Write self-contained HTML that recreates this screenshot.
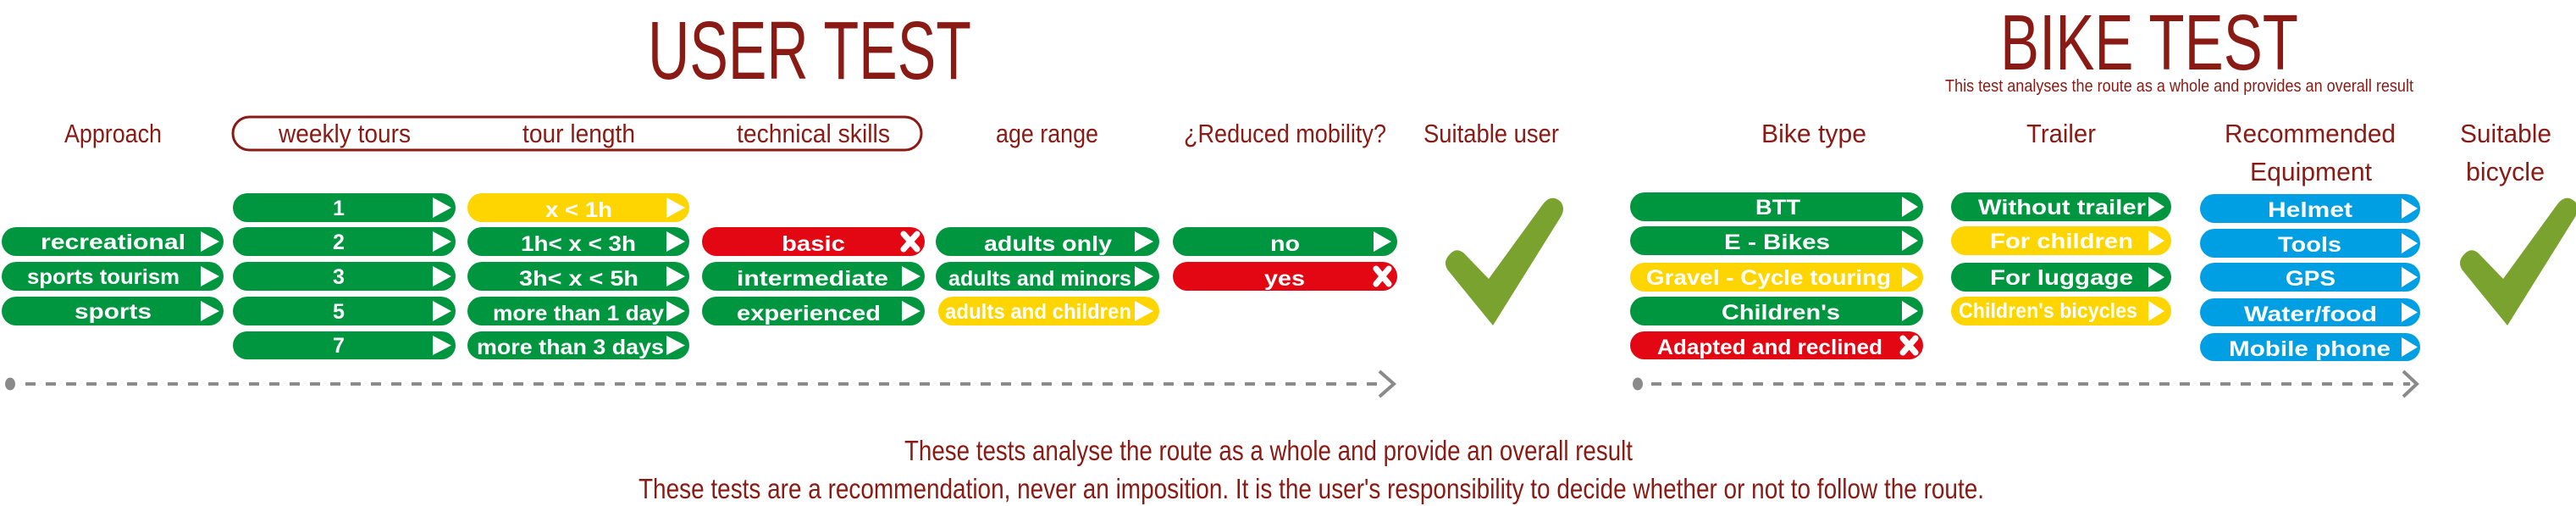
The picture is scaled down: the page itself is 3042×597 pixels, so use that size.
<!DOCTYPE html>
<html><head><meta charset="utf-8"><style>
html,body{margin:0;padding:0;background:#fff;width:3042px;height:597px;overflow:hidden}
svg{display:block}
.h{fill:#8a1a14;font-family:"Liberation Sans Narrow","Liberation Sans",sans-serif}
.p{fill:#fff;font-family:"Liberation Sans",sans-serif;font-weight:bold;font-size:25px}
.g{fill:#009640}.y{fill:#ffd500}.r{fill:#e30613}.b{fill:#009fe3}
.t{fill:#fff}
.x{stroke:#fff;stroke-width:7;stroke-linecap:round}
</style></head><body>
<svg width="3042" height="597" viewBox="0 0 3042 597" xmlns="http://www.w3.org/2000/svg">
<!-- titles -->
<text class="h" x="765" y="93" font-size="97" textLength="382" lengthAdjust="spacingAndGlyphs">USER TEST</text>
<text class="h" x="2362" y="82" font-size="93" textLength="352" lengthAdjust="spacingAndGlyphs">BIKE TEST</text>
<text class="h" x="2297" y="108" font-size="20" textLength="553" lengthAdjust="spacingAndGlyphs">This test analyses the route as a whole and provides an overall result</text>
<!-- headers -->
<rect x="275" y="138" width="813" height="39" rx="19.5" fill="none" stroke="#8a1a14" stroke-width="3"/>
<g class="h" font-size="31">
<text x="76" y="168" textLength="115" lengthAdjust="spacingAndGlyphs">Approach</text>
<text x="329" y="168" textLength="156" lengthAdjust="spacingAndGlyphs">weekly tours</text>
<text x="617" y="168" textLength="133" lengthAdjust="spacingAndGlyphs">tour length</text>
<text x="870" y="168" textLength="181" lengthAdjust="spacingAndGlyphs">technical skills</text>
<text x="1176" y="168" textLength="121" lengthAdjust="spacingAndGlyphs">age range</text>
<text x="1398" y="168" textLength="239" lengthAdjust="spacingAndGlyphs">¿Reduced mobility?</text>
<text x="1681" y="168" textLength="160" lengthAdjust="spacingAndGlyphs">Suitable user</text>
<text x="2080" y="168" textLength="124" lengthAdjust="spacingAndGlyphs">Bike type</text>
<text x="2393" y="168" textLength="82" lengthAdjust="spacingAndGlyphs">Trailer</text>
<text x="2627" y="168" textLength="202" lengthAdjust="spacingAndGlyphs">Recommended</text>
<text x="2657" y="213" textLength="144" lengthAdjust="spacingAndGlyphs">Equipment</text>
<text x="2905" y="168" textLength="108" lengthAdjust="spacingAndGlyphs">Suitable</text>
<text x="2912" y="213" textLength="93" lengthAdjust="spacingAndGlyphs">bicycle</text>
</g>

<!-- Approach -->
<rect class="g" x="2" y="268" width="262" height="34" rx="17"/><text class="p" x="48" y="294" textLength="171" lengthAdjust="spacingAndGlyphs">recreational</text><polygon class="t" points="237,273 259,285 237,297"/>
<rect class="g" x="2" y="309" width="262" height="34" rx="17"/><text class="p" x="32" y="335" textLength="180" lengthAdjust="spacingAndGlyphs">sports tourism</text><polygon class="t" points="237,314 259,326 237,338"/>
<rect class="g" x="2" y="350" width="262" height="34" rx="17"/><text class="p" x="88" y="376" textLength="91" lengthAdjust="spacingAndGlyphs">sports</text><polygon class="t" points="237,355 259,367 237,379"/>

<!-- weekly tours -->
<g>
<rect class="g" x="275" y="228" width="263" height="34" rx="17"/><text class="p" x="400" y="254" text-anchor="middle">1</text><polygon class="t" points="511,233 533,245 511,257"/>
<rect class="g" x="275" y="268" width="263" height="34" rx="17"/><text class="p" x="400" y="294" text-anchor="middle">2</text><polygon class="t" points="511,273 533,285 511,297"/>
<rect class="g" x="275" y="309" width="263" height="34" rx="17"/><text class="p" x="400" y="335" text-anchor="middle">3</text><polygon class="t" points="511,314 533,326 511,338"/>
<rect class="g" x="275" y="350" width="263" height="34" rx="17"/><text class="p" x="400" y="376" text-anchor="middle">5</text><polygon class="t" points="511,355 533,367 511,379"/>
<rect class="g" x="275" y="391" width="263" height="33" rx="16.5"/><text class="p" x="400" y="416" text-anchor="middle">7</text><polygon class="t" points="511,396 533,407.5 511,419"/>
</g>
<!-- tour length -->
<g>
<rect class="y" x="552" y="228" width="262" height="34" rx="17"/><text class="p" x="644" y="256" textLength="79" lengthAdjust="spacingAndGlyphs">x &lt; 1h</text><polygon class="t" points="787,233 809,245 787,257"/>
<rect class="g" x="552" y="268" width="262" height="34" rx="17"/><text class="p" x="615" y="296" textLength="136" lengthAdjust="spacingAndGlyphs">1h&lt; x &lt; 3h</text><polygon class="t" points="787,273 809,285 787,297"/>
<rect class="g" x="552" y="309" width="262" height="34" rx="17"/><text class="p" x="613" y="337" textLength="141" lengthAdjust="spacingAndGlyphs">3h&lt; x &lt; 5h</text><polygon class="t" points="787,314 809,326 787,338"/>
<rect class="g" x="552" y="350" width="262" height="34" rx="17"/><text class="p" x="582" y="378" textLength="202" lengthAdjust="spacingAndGlyphs">more than 1 day</text><polygon class="t" points="787,355 809,367 787,379"/>
<rect class="g" x="552" y="391" width="262" height="33" rx="16.5"/><text class="p" x="563" y="418" textLength="221" lengthAdjust="spacingAndGlyphs">more than 3 days</text><polygon class="t" points="787,396 809,407.5 787,419"/>
</g>
<!-- technical -->
<g>
<rect class="r" x="829" y="268" width="263" height="34" rx="17"/><text class="p" x="923" y="296" textLength="75" lengthAdjust="spacingAndGlyphs">basic</text><line class="x" x1="1067" y1="276" x2="1083" y2="294"/><line class="x" x1="1083" y1="276" x2="1067" y2="294"/>
<rect class="g" x="829" y="309" width="263" height="34" rx="17"/><text class="p" x="870" y="337" textLength="179" lengthAdjust="spacingAndGlyphs">intermediate</text><polygon class="t" points="1065,314 1087,326 1065,338"/>
<rect class="g" x="829" y="350" width="263" height="34" rx="17"/><text class="p" x="870" y="378" textLength="170" lengthAdjust="spacingAndGlyphs">experienced</text><polygon class="t" points="1065,355 1087,367 1065,379"/>
</g>
<!-- age -->
<g>
<rect class="g" x="1105" y="268" width="264" height="34" rx="17"/><text class="p" x="1162" y="296" textLength="151" lengthAdjust="spacingAndGlyphs">adults only</text><polygon class="t" points="1340,273 1362,285 1340,297"/>
<rect class="g" x="1105" y="309" width="264" height="34" rx="17"/><text class="p" x="1120" y="337" textLength="216" lengthAdjust="spacingAndGlyphs">adults and minors</text><polygon class="t" points="1340,314 1362,326 1340,338"/>
<rect class="y" x="1108" y="350" width="261" height="34" rx="17"/><text class="p" x="1116" y="376" textLength="220" lengthAdjust="spacingAndGlyphs" font-size="22">adults and children</text><polygon class="t" points="1340,355 1362,367 1340,379"/>
</g>
<!-- mobility -->
<g>
<rect class="g" x="1385" y="268" width="265" height="34" rx="17"/><text class="p" x="1500" y="296" textLength="35" lengthAdjust="spacingAndGlyphs">no</text><polygon class="t" points="1622,273 1643,285 1622,297"/>
<rect class="r" x="1385" y="309" width="265" height="34" rx="17"/><text class="p" x="1493" y="337" textLength="48" lengthAdjust="spacingAndGlyphs">yes</text><line class="x" x1="1625" y1="317" x2="1640" y2="335"/><line class="x" x1="1640" y1="317" x2="1625" y2="335"/>
</g>
<!-- checks -->
<path fill="#7aa22f" d="M1712,300 Q1720,291 1729,299 L1758,329 L1822,241 Q1832,228 1843,238 Q1849,246 1843,256 L1763,384 L1710,319 Q1703,309 1712,300 Z"/>
<path fill="#7aa22f" transform="translate(1198,0)" d="M1712,300 Q1720,291 1729,299 L1758,329 L1822,241 Q1832,228 1843,238 Q1849,246 1843,256 L1763,384 L1710,319 Q1703,309 1712,300 Z"/>

<!-- bike type -->
<g>
<rect class="g" x="1925" y="227" width="346" height="34" rx="17"/><text class="p" x="2073" y="253" textLength="53" lengthAdjust="spacingAndGlyphs">BTT</text><polygon class="t" points="2246,232 2265,244 2246,256"/>
<rect class="g" x="1925" y="267" width="346" height="34" rx="17"/><text class="p" x="2036" y="294" textLength="125" lengthAdjust="spacingAndGlyphs">E - Bikes</text><polygon class="t" points="2246,272 2265,284 2246,296"/>
<rect class="y" x="1925" y="310" width="346" height="34" rx="17"/><text class="p" x="1944" y="336" textLength="289" lengthAdjust="spacingAndGlyphs">Gravel - Cycle touring</text><polygon class="t" points="2246,315 2265,327 2246,339"/>
<rect class="g" x="1925" y="350" width="346" height="34" rx="17"/><text class="p" x="2033" y="377" textLength="140" lengthAdjust="spacingAndGlyphs">Children's</text><polygon class="t" points="2246,355 2265,367 2246,379"/>
<rect class="r" x="1925" y="391" width="346" height="33" rx="16.5"/><text class="p" x="1957" y="418" textLength="266" lengthAdjust="spacingAndGlyphs">Adapted and reclined</text><line class="x" x1="2247" y1="399" x2="2262" y2="416"/><line class="x" x1="2262" y1="399" x2="2247" y2="416"/>
</g>
<!-- trailer -->
<g>
<rect class="g" x="2304" y="227" width="260" height="34" rx="17"/><text class="p" x="2336" y="253" textLength="198" lengthAdjust="spacingAndGlyphs">Without trailer</text><polygon class="t" points="2537,232 2556,244 2537,256"/>
<rect class="y" x="2304" y="267" width="260" height="34" rx="17"/><text class="p" x="2350" y="293" textLength="169" lengthAdjust="spacingAndGlyphs">For children</text><polygon class="t" points="2537,272 2556,284 2537,296"/>
<rect class="g" x="2304" y="310" width="260" height="34" rx="17"/><text class="p" x="2350" y="336" textLength="169" lengthAdjust="spacingAndGlyphs">For luggage</text><polygon class="t" points="2537,315 2556,327 2537,339"/>
<rect class="y" x="2304" y="350" width="260" height="34" rx="17"/><text class="p" x="2313" y="375" textLength="211" lengthAdjust="spacingAndGlyphs" font-size="22">Children's bicycles</text><polygon class="t" points="2537,355 2556,367 2537,379"/>
</g>
<!-- equipment -->
<g>
<rect class="b" x="2598" y="229" width="260" height="34" rx="17"/><text class="p" x="2678" y="256" textLength="100" lengthAdjust="spacingAndGlyphs">Helmet</text><polygon class="t" points="2836,234 2855,246 2836,258"/>
<rect class="b" x="2598" y="270" width="260" height="34" rx="17"/><text class="p" x="2690" y="297" textLength="75" lengthAdjust="spacingAndGlyphs">Tools</text><polygon class="t" points="2836,275 2855,287 2836,299"/>
<rect class="b" x="2598" y="310" width="260" height="34" rx="17"/><text class="p" x="2699" y="337" textLength="59" lengthAdjust="spacingAndGlyphs">GPS</text><polygon class="t" points="2836,315 2855,327 2836,339"/>
<rect class="b" x="2598" y="352" width="260" height="33" rx="16.5"/><text class="p" x="2650" y="379" textLength="157" lengthAdjust="spacingAndGlyphs">Water/food</text><polygon class="t" points="2836,357 2855,368.5 2836,380"/>
<rect class="b" x="2598" y="393" width="260" height="33" rx="16.5"/><text class="p" x="2632" y="420" textLength="191" lengthAdjust="spacingAndGlyphs">Mobile phone</text><polygon class="t" points="2836,398 2855,409.5 2836,421"/>
</g>

<!-- dashed timelines -->
<g fill="#8a8a8a" stroke="#8a8a8a">
<ellipse cx="12" cy="453" rx="6" ry="7.5" stroke="none"/>
<line x1="30" y1="453" x2="1636" y2="453" stroke-width="4" stroke-dasharray="12,12"/>
<polyline points="1629,438 1646,453 1629,468" fill="none" stroke-width="4"/>
<ellipse cx="1934" cy="453" rx="6" ry="7.5" stroke="none"/>
<line x1="1950" y1="453" x2="2846" y2="453" stroke-width="4" stroke-dasharray="12,12"/>
<polyline points="2838,438 2854,453 2838,468" fill="none" stroke-width="4"/>
</g>

<!-- bottom notes -->
<text class="h" x="1068" y="543" font-size="33" textLength="860" lengthAdjust="spacingAndGlyphs">These tests analyse the route as a whole and provide an overall result</text>
<text class="h" x="754" y="588" font-size="33" textLength="1589" lengthAdjust="spacingAndGlyphs">These tests are a recommendation, never an imposition. It is the user's responsibility to decide whether or not to follow the route.</text>
</svg>
</body></html>
